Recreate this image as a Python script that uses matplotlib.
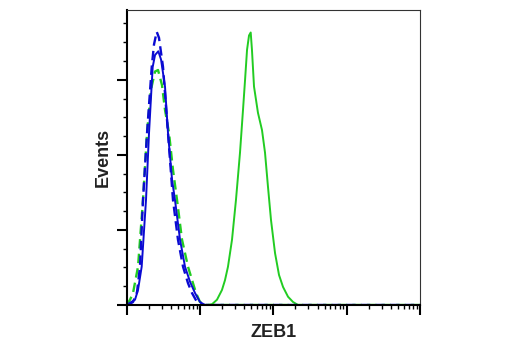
import numpy as np
import matplotlib
matplotlib.use("Agg")
import matplotlib.pyplot as plt
from matplotlib.ticker import LogLocator, MultipleLocator, NullFormatter

# ------------------------------
# 数据：x 用 log10 强度（十进制位数），y 为事件数
# ------------------------------
blue_solid_logx = [0.0, 0.045, 0.113, 0.154, 0.204, 0.263, 0.304, 0.354, 0.386, 0.431, 0.468,
                   0.522, 0.563, 0.618, 0.658, 0.727, 0.795, 0.863, 0.931, 0.999, 1.066, 4.0]
blue_solid_cnt = [0, 3, 7, 20, 51, 140, 229, 317, 333, 338, 327,
                  291, 229, 167, 140, 87, 51, 31, 16, 4, 0, 0]

blue_dash_logx = [0.018, 0.086, 0.14, 0.181, 0.222, 0.277, 0.341, 0.372, 0.409, 0.44, 0.495,
                  0.563, 0.631, 0.699, 0.768, 0.836, 0.89, 0.958, 1.03, 4.0]
blue_dash_cnt = [0, 4, 17, 51, 140, 229, 317, 347, 364, 356, 317,
                 229, 140, 87, 51, 29, 16, 4, 0, 0]

green_dash_logx = [0.0, 0.045, 0.086, 0.154, 0.222, 0.277, 0.331, 0.386, 0.427, 0.481, 0.522,
                   0.577, 0.631, 0.686, 0.754, 0.836, 0.904, 0.945, 0.999, 1.066, 4.0]
green_dash_cnt = [0, 7, 16, 51, 140, 229, 287, 311, 313, 293, 260,
                  229, 180, 140, 87, 51, 29, 16, 4, 0, 0]

green_solid_logx = [0.0, 1.108, 1.163, 1.231, 1.299, 1.34, 1.381, 1.436, 1.49, 1.545, 1.586,
                    1.614, 1.641, 1.668, 1.691, 1.708, 1.736, 1.79, 1.845, 1.886, 1.927,
                    1.968, 2.023, 2.077, 2.132, 2.2, 2.268, 2.336, 4.0]
green_solid_cnt = [0, 0, 1, 7, 20, 33, 51, 87, 140, 203, 260,
                   300, 340, 359, 363, 340, 291, 256, 233, 203, 157,
                   113, 69, 40, 24, 11, 4, 0, 0]

blue = "#0a0ad2"
green = "#22cc22"

fig = plt.figure(figsize=(5.2, 3.5), dpi=100)
ax = fig.add_axes([0.2437, 0.1286, 0.564, 0.8429])

ax.plot(10 ** np.array(green_solid_logx), green_solid_cnt, color=green, lw=1.4)
ax.plot(10 ** np.array(green_dash_logx), green_dash_cnt, color=green, lw=1.7, ls=(0, (4, 2.2)))
ax.plot(10 ** np.array(blue_solid_logx), blue_solid_cnt, color=blue, lw=1.4)
ax.plot(10 ** np.array(blue_dash_logx), blue_dash_cnt, color=blue, lw=1.7, ls=(0, (4, 2.2)))

ax.set_xscale("log")
ax.set_xlim(1, 1e4)
ax.set_ylim(0, 393)

ax.xaxis.set_major_locator(LogLocator(base=10, numticks=10))
ax.xaxis.set_minor_locator(LogLocator(base=10, subs=np.arange(2, 10), numticks=20))
ax.xaxis.set_major_formatter(NullFormatter())
ax.xaxis.set_minor_formatter(NullFormatter())
ax.yaxis.set_major_locator(MultipleLocator(100))
ax.yaxis.set_minor_locator(MultipleLocator(25))
ax.yaxis.set_major_formatter(NullFormatter())

ax.tick_params(which="major", length=7, width=1.5, direction="out", color="black")
ax.tick_params(which="minor", length=3, width=1.0, direction="out", color="black")

for s in ["left", "bottom"]:
    ax.spines[s].set_linewidth(1.5)
for s in ["top", "right"]:
    ax.spines[s].set_linewidth(0.8)
    ax.spines[s].set_color("#333333")

font = ["Liberation Sans Narrow", "Liberation Sans", "DejaVu Sans"]
ax.set_xlabel("ZEB1", fontsize=13, fontweight="bold", family=font, labelpad=3, color="#222222")
ax.set_ylabel("Events", fontsize=13, fontweight="bold", family=font, labelpad=0, color="#222222")

fig.savefig("out.png", dpi=100)
